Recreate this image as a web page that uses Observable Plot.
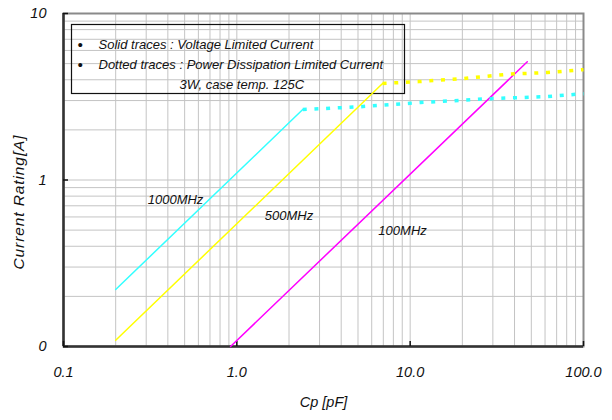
<!DOCTYPE html>
<html>
<head>
<meta charset="utf-8">
<script src="https://cdn.jsdelivr.net/npm/d3@7"></script>
<script src="https://cdn.jsdelivr.net/npm/@observablehq/plot@0.6"></script>
<style>
  html, body { margin: 0; padding: 0; background: #fff; }
  #chart { width: 612px; height: 420px; }
</style>
</head>
<body>
<div id="chart"></div>
<script>
// ---- Data ----
const xTicks = [0.1, 1, 10, 100];
const xTickLabels = ["0.1", "1.0", "10.0", "100.0"];
const yTicks = [0.1, 1, 10];
const yTickLabels = ["0", "1", "10"];

const series = ["1000MHz", "500MHz", "100MHz"];
const seriesColors = ["#33ffff", "#ffff00", "#ff00ff"];

// Solid traces: Voltage Limited Current (Cp [pF], Current [A])
const solid1000C = [0.2, 2.4];
const solid1000I = [0.22, 2.65];
const solid500C = [0.2, 6.93];
const solid500I = [0.109, 3.8];
const solid100C = [0.92, 47.4];
const solid100I = [0.1, 5.13];

// Dotted traces: Power Dissipation Limited Current
const dotted1000C = [2.4, 5, 11.5, 29, 62, 100];
const dotted1000I = [2.65, 2.75, 2.92, 3.08, 3.17, 3.3];
const dotted500C = [6.93, 11.2, 20.3, 37.9, 62, 100];
const dotted500I = [3.8, 3.9, 4.07, 4.33, 4.42, 4.6];

// Series label positions (Cp, I)
const labelC = [0.443, 2.0, 9.04];
const labelI = [0.764, 0.612, 0.497];

const legendLines = [
  "Solid traces : Voltage Limited Current",
  "Dotted traces : Power Dissipation Limited Current",
  "3W, case temp. 125C"
];

const toRows = (cs, is, s) => cs.map((c, i) => ({C: c, I: is[i], s}));
const solidRows = [
  ...toRows(solid1000C, solid1000I, series[0]),
  ...toRows(solid500C, solid500I, series[1]),
  ...toRows(solid100C, solid100I, series[2])
];
const dottedRows = [
  ...toRows(dotted1000C, dotted1000I, series[0]),
  ...toRows(dotted500C, dotted500I, series[1])
];
const labelRows = series.map((s, i) => ({C: labelC[i], I: labelI[i], s}));

const gridX = d3.scaleLog().domain([0.1, 100]).ticks();
const gridY = d3.scaleLog().domain([0.1, 10]).ticks();

const font = "'Liberation Sans', Arial, sans-serif";
const legendText = (t, dx, dy, size = 13) => Plot.text([t], {frameAnchor: "top-left", dx, dy, textAnchor: "start", fontSize: size, fontStyle: "italic", fill: "#111"});

const chart = Plot.plot({
  width: 612,
  height: 420,
  marginLeft: 63,
  marginRight: 29,
  marginTop: 13,
  marginBottom: 74,
  style: {fontFamily: font, background: "white", color: "#111"},
  x: {type: "log", domain: [0.1, 100]},
  y: {type: "log", domain: [0.1, 10]},
  color: {domain: series, range: seriesColors},
  marks: [
    Plot.ruleX(gridX, {stroke: "#c4c4c4", strokeWidth: 1}),
    Plot.ruleY(gridY, {stroke: "#c4c4c4", strokeWidth: 1}),
    Plot.frame({stroke: "#8a8a8a", strokeWidth: 2}),
    Plot.ruleX([0.1], {stroke: "#333", strokeWidth: 2.5}),
    Plot.ruleY([0.1], {stroke: "#333", strokeWidth: 2.5}),
    // axes
    Plot.axisX({ticks: xTicks, tickSize: 0, tickPadding: 20,
      tickFormat: d => xTickLabels[xTicks.indexOf(d)],
      fontSize: 14.5, fontStyle: "italic", label: null}),
    Plot.axisX({ticks: xTicks, tickSize: -5, tickFormat: () => "", label: null, stroke: "#111", strokeWidth: 1.5}),
    Plot.axisY({ticks: yTicks, tickSize: 0, tickPadding: 17,
      tickFormat: d => yTickLabels[yTicks.indexOf(d)],
      fontSize: 14.5, fontStyle: "italic", label: null}),
    Plot.axisY({ticks: yTicks, tickSize: -5, tickFormat: () => "", label: null, stroke: "#111", strokeWidth: 1.5}),
    Plot.text(["Cp [pF]"], {frameAnchor: "bottom", textAnchor: "middle", dy: 60, fontSize: 14.5, fontStyle: "italic", fill: "#111"}),
    Plot.text(["Current Rating[A]"], {frameAnchor: "left", textAnchor: "middle", dx: -44, dy: 22, rotate: -90, fontSize: 15.5, fontStyle: "italic", fill: "#111"}),
    // legend box
    Plot.frame({insetLeft: 8, insetTop: 11, insetRight: 179, insetBottom: 253, stroke: "#111", strokeWidth: 1.2}),
    legendText("\u2022", 14, 26, 15),
    legendText("\u2022", 14, 46, 15),
    legendText(legendLines[0], 35, 26),
    legendText(legendLines[1], 35, 46),
    legendText(legendLines[2], 116, 66),
    // traces
    Plot.line(solidRows, {x: "C", y: "I", z: "s", stroke: "s", strokeWidth: 1.5}),
    Plot.line(dottedRows, {x: "C", y: "I", z: "s", stroke: "s", strokeWidth: 3.5, strokeDasharray: "4,7.7", strokeLinecap: "butt"}),
    Plot.text(labelRows, {x: "C", y: "I", text: "s", fontSize: 13, fontStyle: "italic", fill: "#111"})
  ]
});

chart.querySelectorAll("text").forEach(t => {
  if (t.textContent === "Current Rating[A]") t.setAttribute("letter-spacing", "0.9");
});
document.getElementById("chart").appendChild(chart);
</script>
</body>
</html>
